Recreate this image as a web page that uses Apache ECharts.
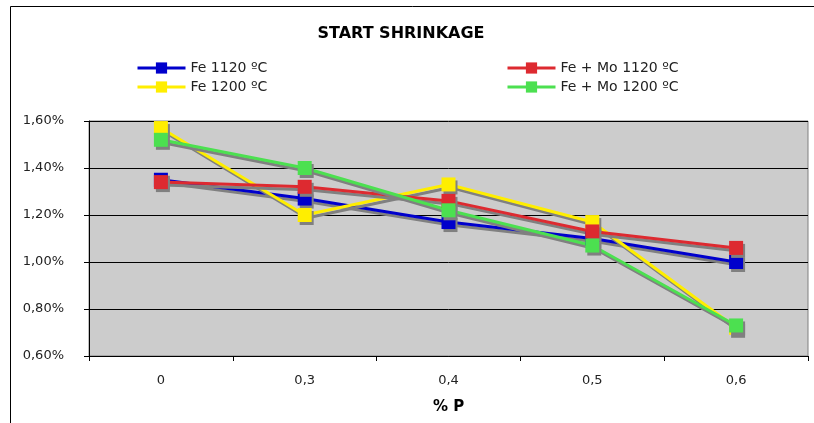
<!DOCTYPE html>
<html>
<head>
<meta charset="utf-8">
<script src="https://cdn.jsdelivr.net/npm/echarts@6/dist/echarts.min.js"></script>
<style>
    html, body { margin: 0; padding: 0; background: #fff; }
    #chart { width: 814px; height: 423px; }
</style>
</head>
<body>
<div id="chart"></div>
<script>
// % P on the x axis
const categories = ["0", "0,3", "0,4", "0,5", "0,6"];
// start shrinkage, in %
const fe1120 = [1.35, 1.27, 1.17, 1.10, 1.00];
const fe1200 = [1.57, 1.20, 1.33, 1.17, 0.72];
const feMo1120 = [1.34, 1.32, 1.26, 1.13, 1.06];
const feMo1200 = [1.52, 1.40, 1.22, 1.07, 0.73];

const font = "DejaVu Sans";

function makeSeries(name, data, color) {
    return {
        name: name,
        type: "line",
        data: data,
        symbol: "rect",
        symbolSize: 14,
        itemStyle: {
            color: color,
            shadowColor: "#808080",
            shadowOffsetX: 2,
            shadowOffsetY: 3,
        },
        lineStyle: {
            color: color,
            width: 3,
            shadowColor: "#808080",
            shadowOffsetX: 2,
            shadowOffsetY: 3,
        },
        emphasis: { disabled: true },
        animation: false,
    };
}

const mychart = echarts.init(document.getElementById("chart"));
const legendBase = {
    orient: "vertical",
    top: 56,
    itemWidth: 48,
    itemHeight: 14,
    itemGap: 5,
    lineStyle: { width: 3, shadowColor: "transparent" },
    itemStyle: { shadowColor: "transparent" },
    textStyle: { fontFamily: font, fontSize: 14, color: "#222" },
};
const option = {
    graphic: [
        {
            type: "rect",
            shape: { x: 10.5, y: 6.5, width: 900, height: 500 },
            style: { fill: null, stroke: "#000", lineWidth: 1 },
            silent: true,
        },
    ],
    title: {
        text: "START SHRINKAGE",
        left: 396,
        textAlign: "center",
        top: 21,
        textStyle: { fontFamily: font, fontSize: 16, fontWeight: "bold", color: "#000" },
    },
    legend: [
        Object.assign({ data: ["Fe 1120 ºC", "Fe 1200 ºC"], left: 131 }, legendBase),
        Object.assign({ data: ["Fe + Mo 1120 ºC", "Fe + Mo 1200 ºC"], left: 501 }, legendBase),
    ],
    grid: {
        left: 89,
        right: 6,
        top: 121,
        bottom: 67,
        show: true,
        backgroundColor: "#cccccc",
        borderColor: "#808080",
        borderWidth: 1,
    },
    xAxis: {
        type: "category",
        data: categories,
        boundaryGap: true,
        name: "% P",
        nameLocation: "middle",
        nameGap: 44,
        nameTextStyle: { fontFamily: font, fontSize: 15, fontWeight: "bold", color: "#000" },
        axisLine: { lineStyle: { color: "#000" } },
        axisTick: { show: true, length: 5, lineStyle: { color: "#000" } },
        axisLabel: { fontFamily: font, fontSize: 13, color: "#222", margin: 18 },
    },
    yAxis: {
        type: "value",
        min: 0.6,
        max: 1.6,
        interval: 0.2,
        axisLine: { show: true, lineStyle: { color: "#000" } },
        axisTick: { show: true, length: 5, lineStyle: { color: "#000" } },
        axisLabel: {
            fontFamily: font,
            fontSize: 13,
            color: "#222",
            margin: 25,
            formatter: (v) => v.toFixed(2).replace(".", ",") + "%",
        },
        splitLine: { lineStyle: { color: "#000", width: 1 } },
    },
    series: [
        makeSeries("Fe 1120 ºC", fe1120, "#0000cc"),
        makeSeries("Fe 1200 ºC", fe1200, "#ffee00"),
        makeSeries("Fe + Mo 1120 ºC", feMo1120, "#dd2a30"),
        makeSeries("Fe + Mo 1200 ºC", feMo1200, "#4ce050"),
    ],
};
mychart.setOption(option);
</script>
</body>
</html>
